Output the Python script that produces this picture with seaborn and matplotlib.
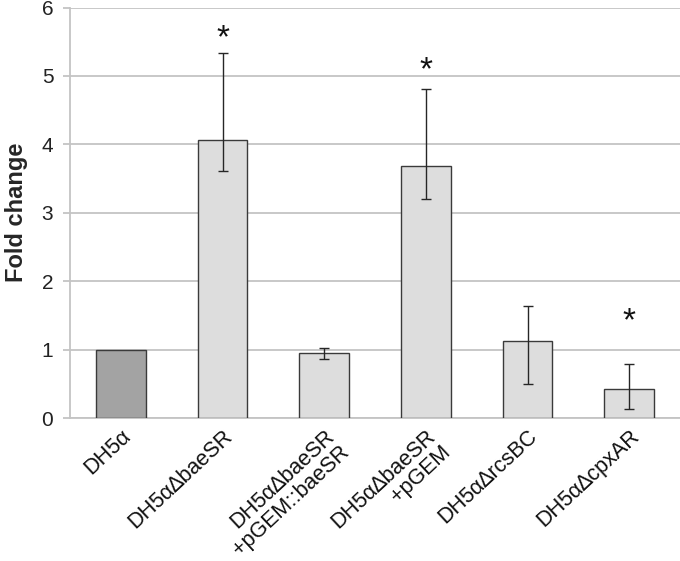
import matplotlib
matplotlib.use("Agg")
import matplotlib.pyplot as plt
import seaborn as sns
import pandas as pd

# strains and measured fold change
strains = ["DH5α", "DH5α∆baeSR", "DH5α∆baeSR\n+pGEM::baeSR",
           "DH5α∆baeSR\n+pGEM", "DH5α∆rcsBC", "DH5α∆cpxAR"]
fold = [1.0, 4.07, 0.95, 3.69, 1.13, 0.43]
# error bar ends (lower / upper), first bar has none
err_lo = [None, 3.61, 0.86, 3.20, 0.49, 0.13]
err_hi = [None, 5.34, 1.02, 4.81, 1.63, 0.79]
bar_colors = ["#a3a3a3", "#dddddd", "#dddddd", "#dddddd", "#dddddd", "#dddddd"]
# significance stars (bar index, y of baseline)
star_idx = [1, 3, 5]
star_y = [5.42, 4.95, 1.28]

sns.set_style("white")
plt.rcParams["font.family"] = ["Liberation Sans", "DejaVu Sans"]

df = pd.DataFrame({"strain": strains, "fold": fold})

fig = plt.figure(figsize=(6.8, 5.61), dpi=100)
ax = fig.add_axes([70 / 680, 1 - 418 / 561, 610 / 680, (418 - 7.5) / 561])

sns.barplot(data=df, x="strain", y="fold", hue="strain", palette=bar_colors,
            legend=False, width=0.49, edgecolor="#3a3a3a", linewidth=1.0,
            ax=ax, zorder=3)

# asymmetric error bars
xs, ys, lo, hi = [], [], [], []
for i in range(len(strains)):
    if err_lo[i] is None:
        continue
    xs.append(i)
    ys.append(fold[i])
    lo.append(fold[i] - err_lo[i])
    hi.append(err_hi[i] - fold[i])
ax.errorbar(xs, ys, yerr=[lo, hi], fmt="none", ecolor="#262626",
            elinewidth=1.0, capsize=3.6, capthick=1.0, zorder=4)

for i, y in zip(star_idx, star_y):
    ax.text(i, y, "*", ha="center", va="baseline", fontsize=24, color="#111111")

ax.set_ylim(0, 6)
ax.set_xlim(-0.5, 5.5)
ax.set_yticks(range(7))
ax.yaxis.grid(True, color="#c4c4c4", linewidth=1.3, zorder=0)
ax.set_axisbelow(True)
for s in ["top", "right"]:
    ax.spines[s].set_visible(False)
ax.spines["left"].set_color("#c4c4c4")
ax.spines["bottom"].set_color("#c4c4c4")
ax.spines["left"].set_linewidth(1.3)
ax.spines["bottom"].set_linewidth(1.3)

ax.tick_params(axis="y", left=True, length=5, width=1.3, color="#c4c4c4",
               pad=7, labelsize=15, labelcolor="#222222")
ax.tick_params(axis="x", bottom=False, pad=2, labelsize=15.5, labelcolor="#111111")
ax.set_xticks(range(len(strains)))
ax.set_xticklabels(strains, rotation=43, ha="right", va="top",
                   rotation_mode="anchor", linespacing=1.05)

ax.set_xlabel("")
ax.set_ylabel("Fold change", fontsize=17, fontweight="bold", labelpad=10)

fig.savefig("out.png", dpi=100)
